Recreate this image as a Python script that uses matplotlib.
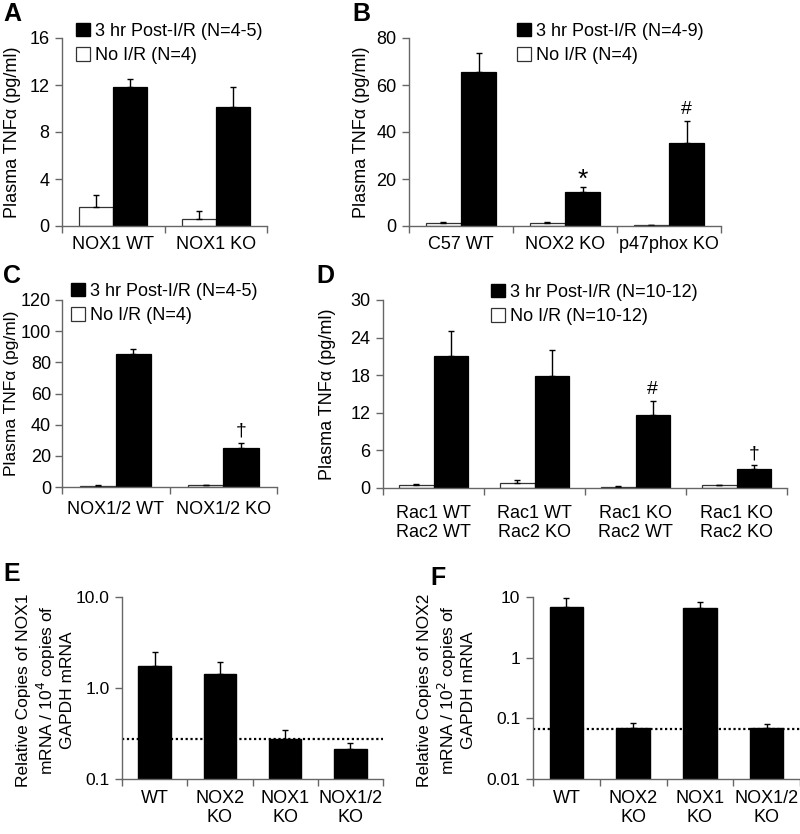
import matplotlib
matplotlib.use("Agg")
import matplotlib.pyplot as plt
import numpy as np
from matplotlib.patches import Patch

plt.rcParams['font.family'] = ['Liberation Sans', 'DejaVu Sans']
plt.rcParams['font.size'] = 13

# ---- data ----
a_groups = ['NOX1 WT', 'NOX1 KO']
a_post = [11.8, 10.1]
a_post_err = [0.7, 1.7]
a_noir = [1.6, 0.6]
a_noir_err = [1.0, 0.7]

b_groups = ['C57 WT', 'NOX2 KO', 'p47phox KO']
b_post = [65.5, 14.4, 35.2]
b_post_err = [8.1, 2.0, 9.5]
b_noir = [1.3, 1.1, 0.3]
b_noir_err = [0.6, 0.6, 0.2]
b_marks = ['', '*', '#']

c_groups = ['NOX1/2 WT', 'NOX1/2 KO']
c_post = [85.1, 24.8]
c_post_err = [3.6, 3.6]
c_noir = [0.8, 1.0]
c_noir_err = [0.5, 0.5]
c_marks = ['', '\u2020']

d_groups = ['Rac1 WT\nRac2 WT', 'Rac1 WT\nRac2 KO', 'Rac1 KO\nRac2 WT', 'Rac1 KO\nRac2 KO']
d_post = [21.0, 17.9, 11.7, 3.0]
d_post_err = [4.1, 4.2, 2.2, 0.7]
d_noir = [0.5, 0.8, 0.2, 0.4]
d_noir_err = [0.2, 0.5, 0.1, 0.1]
d_marks = ['', '', '#', '\u2020']

e_groups = ['WT', 'NOX2\nKO', 'NOX1\nKO', 'NOX1/2\nKO']
e_vals = [1.76, 1.43, 0.273, 0.212]
e_err = [0.74, 0.49, 0.073, 0.035]
e_limit = 0.275

f_groups = ['WT', 'NOX2\nKO', 'NOX1\nKO', 'NOX1/2\nKO']
f_vals = [6.9, 0.068, 6.7, 0.070]
f_err = [2.9, 0.017, 1.5, 0.012]
f_limit = 0.067

W, H = 800, 834
fig = plt.figure(figsize=(W / 100, H / 100), dpi=100)


def add_ax(x0, x1, y0, y1):
    return fig.add_axes([x0 / W, 1 - y1 / H, (x1 - x0) / W, (y1 - y0) / H])


spine_col = '#666666'


def style(ax, n):
    for s in ['top', 'right']:
        ax.spines[s].set_visible(False)
    for s in ['left', 'bottom']:
        ax.spines[s].set_color(spine_col)
        ax.spines[s].set_linewidth(1.0)
    ax.set_xlim(-0.5, n - 0.5)
    ax.set_xticks(np.arange(n))
    ax.tick_params(axis='x', length=0, pad=7)
    ax.set_xticks(np.arange(n + 1) - 0.5, minor=True)
    ax.tick_params(axis='x', which='minor', length=5, color=spine_col, width=1.0, direction='out')
    ax.tick_params(axis='y', length=5, color=spine_col, width=1.0, direction='out', pad=4)
    ax.tick_params(axis='y', which='minor', length=0)


def paired(ax, groups, post, post_err, noir, noir_err, ymax, step, marks=None, w=0.33):
    n = len(groups)
    x = np.arange(n)
    ek = dict(ecolor='black', elinewidth=1.0, capsize=2.2, capthick=1.0)
    ax.bar(x - w / 2, noir, w, color='white', edgecolor='#333333', linewidth=0.9,
           yerr=[np.zeros(n), noir_err], error_kw=ek, zorder=2)
    ax.bar(x + w / 2, post, w, color='black', edgecolor='black', linewidth=0.9,
           yerr=[np.zeros(n), post_err], error_kw=ek, zorder=2)
    if marks:
        for i, m in enumerate(marks):
            if m == '*':
                ax.annotate(m, (x[i] + w / 2, post[i] + post_err[i]), xytext=(0, -3),
                            textcoords='offset points', ha='center', va='bottom', fontsize=19)
            elif m:
                ax.annotate(m, (x[i] + w / 2, post[i] + post_err[i]), xytext=(0, 2),
                            textcoords='offset points', ha='center', va='bottom', fontsize=14)
    style(ax, n)
    ax.set_ylim(0, ymax)
    ax.set_yticks(np.arange(0, ymax + 0.01, step))
    ax.set_xticklabels(groups, linespacing=1.2)
    ax.set_ylabel('Plasma TNF\u03b1 (pg/ml)')


def legend(ax, post_label, noir_label, x, y):
    handles = [Patch(facecolor='black', edgecolor='black'),
               Patch(facecolor='white', edgecolor='#333333', linewidth=0.9)]
    fig.legend(handles, [post_label, noir_label], loc='upper left',
               bbox_to_anchor=(x / W, 1 - y / H), frameon=False,
               handlelength=0.75, handleheight=0.75, handletextpad=0.3,
               labelspacing=0.4, borderpad=0, borderaxespad=0, fontsize=13)


# A
axA = add_ax(62, 267, 38, 226)
paired(axA, a_groups, a_post, a_post_err, a_noir, a_noir_err, 16, 4)
axA.yaxis.set_label_coords(-0.2, 0.5)
legend(axA, '3 hr Post-I/R (N=4-5)', 'No I/R (N=4)', 76, 23)

# B
axB = add_ax(409, 721, 38, 226)
paired(axB, b_groups, b_post, b_post_err, b_noir, b_noir_err, 80, 20, b_marks, w=0.34)
axB.yaxis.set_label_coords(-0.125, 0.5)
legend(axB, '3 hr Post-I/R (N=4-9)', 'No I/R (N=4)', 517, 23)

# C
axC = add_ax(62, 277, 300, 487)
paired(axC, c_groups, c_post, c_post_err, c_noir, c_noir_err, 120, 20, c_marks)
axC.set_ylabel('Plasma TNF\u03b1 (pg/ml)', fontsize=12.5)
axC.yaxis.set_label_coords(-0.198, 0.5)
axC.tick_params(axis='x', pad=10)
axC.tick_params(axis='y', pad=3)
legend(axC, '3 hr Post-I/R (N=4-5)', 'No I/R (N=4)', 71, 283)

# D
axD = add_ax(383, 787, 300, 488)
paired(axD, d_groups, d_post, d_post_err, d_noir, d_noir_err, 30, 6, d_marks, w=0.34)
axD.yaxis.set_label_coords(-0.116, 0.5)
axD.tick_params(axis='x', pad=12)
legend(axD, '3 hr Post-I/R (N=10-12)', 'No I/R (N=10-12)', 491, 284)


def logbars(ax, groups, vals, err, limit, ylo, yhi, ticklabels, ylabel):
    n = len(groups)
    x = np.arange(n)
    ax.set_yscale('log')
    ek = dict(ecolor='black', elinewidth=1.0, capsize=2.2, capthick=1.0)
    ax.bar(x, np.array(vals) - ylo, 0.5, bottom=ylo, color='black', edgecolor='black',
           yerr=[np.zeros(n), err], error_kw=ek, zorder=2)
    ax.axhline(limit, color='black', linestyle=(0, (1, 1.2)), linewidth=1.6, zorder=1)
    style(ax, n)
    ax.set_ylim(ylo, yhi)
    ticks = [float(t) for t in ticklabels]
    ax.set_yticks(ticks)
    ax.set_yticklabels(ticklabels, fontsize=12.5)
    ax.yaxis.set_minor_locator(matplotlib.ticker.NullLocator())
    ax.set_xticklabels(groups, linespacing=1.15)
    ax.tick_params(axis='x', pad=8)
    ax.set_ylabel(ylabel, fontsize=12.5, linespacing=1.2)


# E
axE = add_ax(122, 383, 597, 779)
logbars(axE, e_groups, e_vals, e_err, e_limit, 0.1, 10, ['0.1', '1.0', '10.0'],
        'Relative Copies of NOX1\nmRNA / 10$^{4}$ copies of\nGAPDH mRNA')
axE.yaxis.set_label_coords(-0.18, 0.49)

# F
axF = add_ax(533, 800, 597, 779)
logbars(axF, f_groups, f_vals, f_err, f_limit, 0.01, 10, ['0.01', '0.1', '1', '10'],
        'Relative Copies of NOX2\nmRNA / 10$^{2}$ copies of\nGAPDH mRNA')
axF.yaxis.set_label_coords(-0.212, 0.49)

# panel letters
for letter, px, py in [('A', 3, 2), ('B', 352, 2), ('C', 3, 264), ('D', 316, 264),
                       ('E', 3, 562), ('F', 430, 566)]:
    fig.text(px / W, 1 - py / H, letter, fontsize=18, fontweight='bold', va='top', ha='left')

fig.savefig('out.png', dpi=100)
